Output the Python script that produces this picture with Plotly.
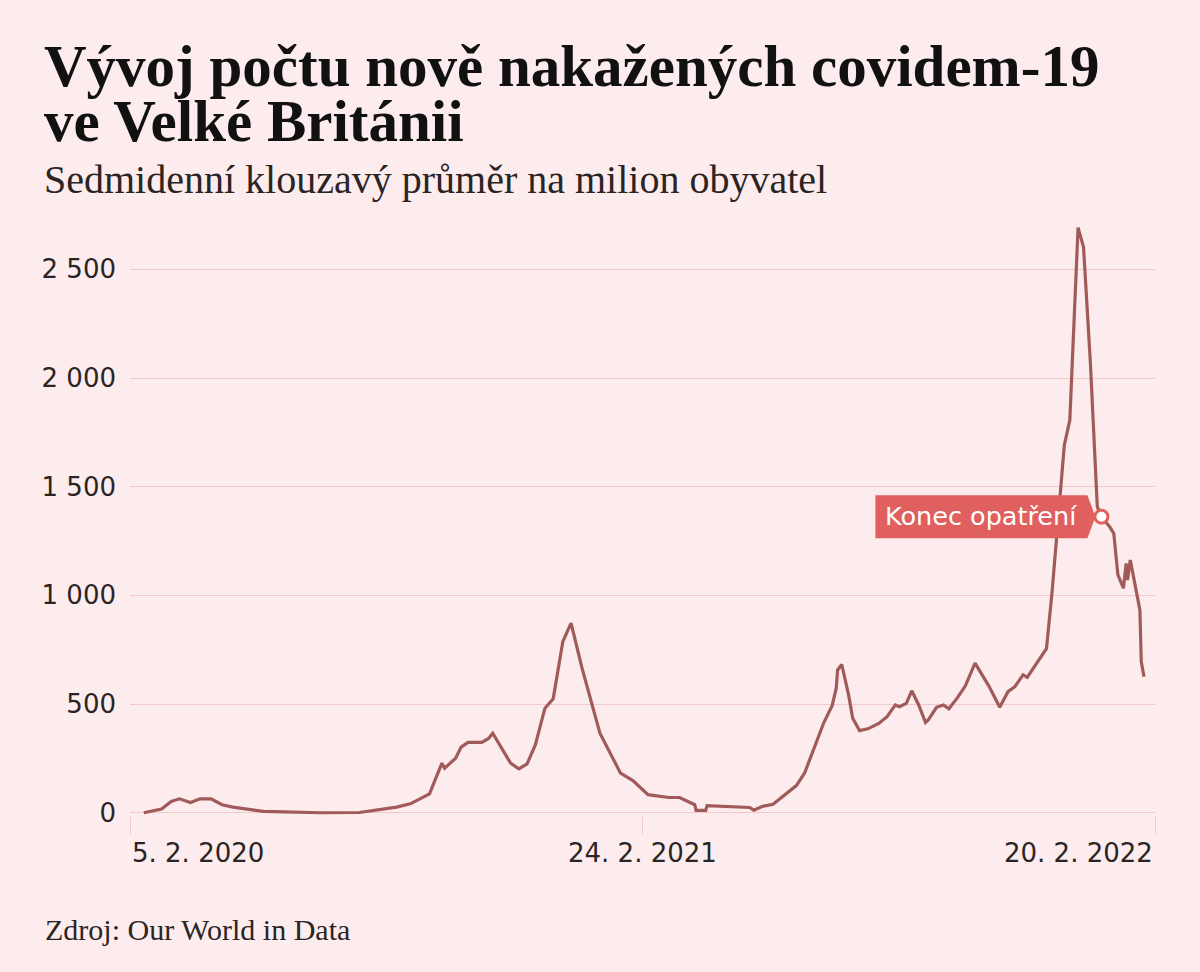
import pandas as pd
import plotly.graph_objects as go

# ---------------- data ----------------
start_date = "2020-02-05"
end_date = "2022-02-20"

# days since 5. 2. 2020
day_offsets = [10, 23, 30, 36, 44, 51, 59, 67, 75, 97, 112, 138, 167, 182, 194, 204,
               211, 218, 227, 229, 237, 241, 246, 256, 261, 264, 277, 283, 289, 295,
               302, 308, 315, 321, 329, 335, 342, 357, 366, 377, 392, 400, 411, 412,
               419, 420, 451, 454, 460, 468, 477, 485, 491, 499, 505, 511, 514, 515,
               518, 523, 526, 531, 537, 545, 551, 557, 560, 565, 569, 574, 579, 581,
               587, 592, 596, 602, 608, 615, 622, 625, 633, 639, 644, 650, 653, 660,
               667, 671, 677, 680, 684, 690, 694, 699, 704, 707, 713, 716, 719, 723,
               725, 726, 728, 735, 736, 738]

cases_per_million = [0, 17, 52, 64, 47, 64, 64, 37, 26, 6, 4, 0, 1, 14, 26, 41,
                     62, 87, 228, 205, 251, 302, 324, 324, 342, 366, 228, 202, 225, 312,
                     481, 524, 787, 872, 665, 527, 366, 182, 148, 83, 70, 70, 37, 11,
                     11, 33, 24, 12, 29, 39, 85, 125, 183, 312, 415, 492, 573, 657,
                     682, 542, 435, 378, 386, 411, 442, 496, 488, 503, 561, 496, 415, 427,
                     485, 496, 478, 527, 584, 688, 611, 584, 485, 557, 580, 634, 623, 688,
                     755, 1009, 1469, 1691, 1806, 2692, 2602, 2067, 1408, 1362, 1316, 1285, 1094, 1033,
                     1147, 1071, 1163, 933, 695, 626]

event_day = 707
event_value = 1362
event_label = "Konec opatření"

x_tick_labels = ["5. 2. 2020", "24. 2. 2021", "20. 2. 2022"]
y_tick_values = [0, 500, 1000, 1500, 2000, 2500]
y_tick_labels = ["0", "500", "1 000", "1 500", "2 000", "2 500"]

title_line1 = "Vývoj počtu nově nakažených covidem-19"
title_line2 = "ve Velké Británii"
subtitle = "Sedmidenní klouzavý průměr na milion obyvatel"
source = "Zdroj: Our World in Data"

# ---------------- styling ----------------
BG = "#fdeced"
GRID = "#f3c8cb"
LINE = "#a15a5a"
LABEL = "#e0605f"
TEXT = "#2b2424"

W, H = 1200, 972
ML, MR, MT, MB = 130, 45, 215, 156
plot_h = H - MT - MB
plot_w = W - ML - MR


def py(pix_y):
    """pixel y (from top) -> paper y"""
    return (H - MB - pix_y) / plot_h


def px(pix_x):
    return (pix_x - ML) / plot_w


start = pd.Timestamp(start_date)
end = pd.Timestamp(end_date)
dates = start + pd.to_timedelta(day_offsets, unit="D")
event_date = start + pd.to_timedelta(event_day, unit="D")
mid = start + (end - start) / 2
x_tick_dates = [start, mid, end]

fig = go.Figure()
fig.add_trace(go.Scatter(
    x=dates, y=cases_per_million, mode="lines",
    line=dict(color=LINE, width=3.2, shape="linear"),
    hoverinfo="skip", showlegend=False,
))

# pointed label box anchored at the event point
fig.add_shape(
    type="path", xref="x", yref="y",
    xsizemode="pixel", ysizemode="pixel",
    xanchor=event_date, yanchor=event_value,
    path="M -226,21.5 L -14,21.5 L -6,0 L -14,-21.5 L -226,-21.5 Z",
    fillcolor=LABEL, line=dict(width=0), layer="above",
)
fig.add_trace(go.Scatter(
    x=[event_date], y=[event_value], mode="markers",
    marker=dict(size=13, color="white", line=dict(color=LABEL, width=3)),
    hoverinfo="skip", showlegend=False, cliponaxis=False,
))
fig.add_annotation(
    x=event_date, y=event_value, xref="x", yref="y",
    text=event_label, showarrow=False, xanchor="center", yanchor="middle",
    xshift=-120, yshift=1,
    font=dict(family="DejaVu Sans", size=25.5, color="white"),
)

# x tick labels (first left-aligned, middle centred, last right-aligned)
for d, lab, anc in zip(x_tick_dates, x_tick_labels, ["left", "center", "right"]):
    fig.add_annotation(
        x=d, y=py(853), xref="x", yref="paper", text=lab, showarrow=False,
        xanchor=anc, yanchor="middle",
        font=dict(family="DejaVu Sans", size=26, color=TEXT),
    )

serif = "Liberation Serif"
# two-line title as one text block; base size sets the (tight) line spacing
title_text = ("<span style='font-size:59px'><b>" + title_line1 + "</b></span><br>"
              "<span style='font-size:59px'><b>" + title_line2 + "</b></span>")
fig.add_annotation(x=px(42), y=py(94), xref="paper", yref="paper", text=title_text,
                   showarrow=False, xanchor="left", yanchor="middle", align="left",
                   font=dict(family=serif, size=42.5, color="#111111"))
fig.add_annotation(x=px(42), y=py(179), xref="paper", yref="paper", text=subtitle,
                   showarrow=False, xanchor="left", yanchor="middle",
                   font=dict(family=serif, size=40, color=TEXT))
fig.add_annotation(x=px(43), y=py(929), xref="paper", yref="paper", text=source,
                   showarrow=False, xanchor="left", yanchor="middle",
                   font=dict(family=serif, size=30, color=TEXT))

fig.update_layout(
    width=W, height=H,
    margin=dict(l=ML, r=MR, t=MT, b=MB, pad=0),
    paper_bgcolor=BG, plot_bgcolor=BG,
    showlegend=False,
    xaxis=dict(
        type="date", range=[start, end],
        tickvals=x_tick_dates, showticklabels=False,
        ticks="outside", ticklen=17, tickwidth=1, tickcolor=GRID,
        showgrid=False, zeroline=False, showline=False, fixedrange=True,
    ),
    yaxis=dict(
        range=[-15, 2750],
        tickvals=y_tick_values, ticktext=y_tick_labels,
        showgrid=True, gridcolor=GRID, gridwidth=1.2,
        zeroline=False, showline=False, ticks="",
        ticklabelstandoff=13,
        tickfont=dict(family="DejaVu Sans", size=26, color=TEXT),
        fixedrange=True,
    ),
)

fig.write_html(
    "out.html",
    config={"displayModeBar": False},
    post_script="document.body.style.margin='0';document.body.style.background='" + BG + "';",
)
